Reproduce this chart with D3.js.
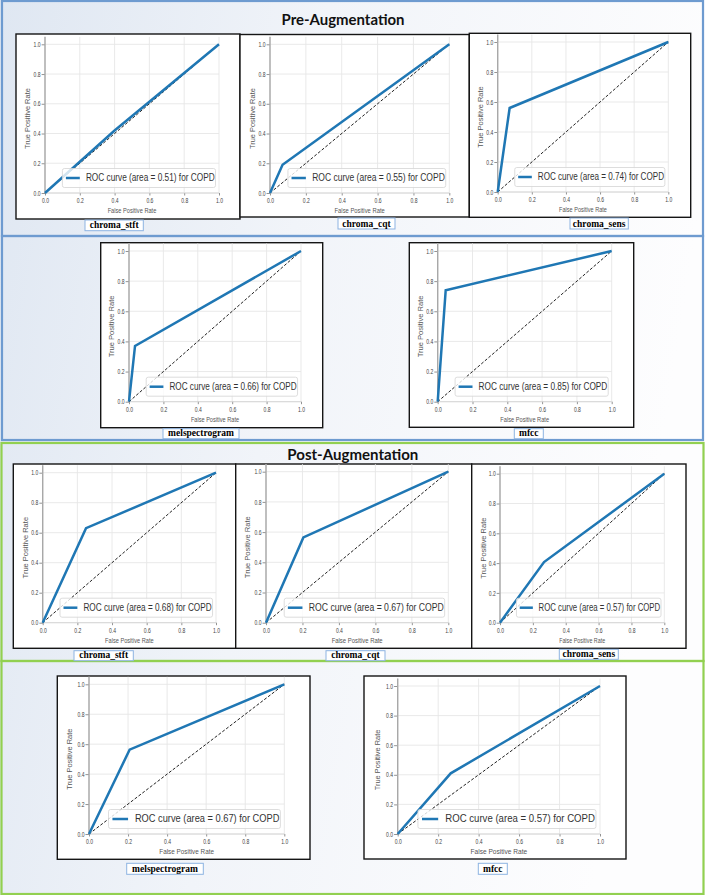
<!DOCTYPE html>
<html>
<head>
<meta charset="utf-8">
<script src="https://cdn.jsdelivr.net/npm/d3@7"></script>
<style>
  html, body { margin: 0; padding: 0; background: #ffffff; }
  svg { display: block; }
</style>
</head>
<body>
<svg id="chart" width="705" height="895"></svg>
<script>
// ---------------- DATA ----------------
const sectionTitles = ["Pre-Augmentation", "Post-Augmentation"];
const features = ["chroma_stft", "chroma_cqt", "chroma_sens", "melspectrogram", "mfcc"];
// single operating point of each ROC curve (curve = (0,0) -> (fpr,tpr) -> (1,1))
const preFpr  = [0.40, 0.07, 0.07, 0.035, 0.046];
const preTpr  = [0.42, 0.19, 0.56, 0.37, 0.74];
const preAuc  = ["0.51", "0.55", "0.74", "0.66", "0.85"];
const postFpr = [0.25, 0.205, 0.268, 0.208, 0.262];
const postTpr = [0.63, 0.565, 0.407, 0.563, 0.41];
const postAuc = ["0.68", "0.67", "0.57", "0.67", "0.57"];
const tickValues = [0, 0.2, 0.4, 0.6, 0.8, 1.0];
const tickLabels = ["0.0", "0.2", "0.4", "0.6", "0.8", "1.0"];
const xAxisTitle = "False Positive Rate";
const yAxisTitle = "True Positive Rate";
const className = "COPD";

// ---------------- LAYOUT (positions only) ----------------
const layout = [
  {sec: 0, f: 0, box: [16, 34, 240, 219],        ax: [45, 219, 44.3, 193],      lab: [85, 220, 143.3, 230.7]},
  {sec: 0, f: 1, box: [240, 34.5, 469.3, 217],   ax: [270, 449.3, 44.3, 193],   lab: [338, 218, 395, 229]},
  {sec: 0, f: 2, box: [469.3, 33.3, 690.7, 217.3], ax: [497.7, 668.3, 42, 192], lab: [570, 218, 628.3, 229]},
  {sec: 0, f: 3, box: [100.7, 242.7, 322.7, 427.7], ax: [129, 301, 251, 401.7], lab: [163, 428.7, 239, 438.7]},
  {sec: 0, f: 4, box: [409.3, 242.7, 633.7, 427.3], ax: [437.7, 611.7, 251, 401.7], lab: [514.3, 428.7, 543.3, 438.7]},
  {sec: 1, f: 0, box: [13.3, 464, 235.7, 648.3], ax: [42.7, 216, 472.7, 622.7], lab: [74, 650.7, 133.3, 660.7]},
  {sec: 1, f: 1, box: [235.7, 464, 471.7, 648.3], ax: [266, 448.3, 471.7, 622.7], lab: [326, 650.7, 385, 660.7]},
  {sec: 1, f: 2, box: [471.7, 464, 686, 648.3],  ax: [500, 664.3, 473.7, 622.7], lab: [559.3, 649.3, 618.3, 659.3]},
  {sec: 1, f: 3, box: [57.3, 676, 310, 859.3],   ax: [89, 284.3, 684.3, 834],    lab: [126.7, 863.3, 203.3, 874.3]},
  {sec: 1, f: 4, box: [364, 676, 626, 859],      ax: [397.7, 600, 686, 834],     lab: [478.3, 863.3, 507.3, 874.3]}
];

const frames = [
  {x: 2, y: 1, w: 701, h: 235, color: "#6e9bd0"},
  {x: 2, y: 236, w: 701, h: 204, color: "#6e9bd0"},
  {x: 1.5, y: 443, w: 702, h: 218, color: "#92d050"},
  {x: 1.5, y: 661, w: 702, h: 233, color: "#92d050"}
];
const titlePos = [{x: 343, y: 25, len: 123}, {x: 352.8, y: 460, len: 131}];

// ---------------- DRAW ----------------
const svg = d3.select("#chart");
const defs = svg.append("defs");
const grad = defs.append("linearGradient").attr("id", "bg")
  .attr("x1", "0%").attr("y1", "0%").attr("x2", "100%").attr("y2", "20%");
grad.append("stop").attr("offset", "0%").attr("stop-color", "#dfe7f2");
grad.append("stop").attr("offset", "45%").attr("stop-color", "#f1f4f9");
grad.append("stop").attr("offset", "100%").attr("stop-color", "#fdfdfe");

svg.append("rect").attr("width", 705).attr("height", 895).attr("fill", "url(#bg)");

frames.forEach(fr => {
  svg.append("rect").attr("x", fr.x).attr("y", fr.y).attr("width", fr.w).attr("height", fr.h)
    .attr("fill", "none").attr("stroke", fr.color).attr("stroke-width", 2.2);
});

sectionTitles.forEach((t, i) => {
  svg.append("text").attr("x", titlePos[i].x).attr("y", titlePos[i].y)
    .attr("text-anchor", "middle")
    .attr("font-family", "Lato, 'Open Sans', sans-serif").attr("font-weight", "bold")
    .attr("font-size", 15.5).attr("fill", "#111")
    .attr("textLength", titlePos[i].len).attr("lengthAdjust", "spacingAndGlyphs")
    .text(t);
});

const line = d3.line();

layout.forEach(L => {
  const fpr = L.sec === 0 ? preFpr[L.f] : postFpr[L.f];
  const tpr = L.sec === 0 ? preTpr[L.f] : postTpr[L.f];
  const auc = L.sec === 0 ? preAuc[L.f] : postAuc[L.f];
  const [bx0, by0, bx1, by1] = L.box;
  const [ax0, ax1, ay1, ay0] = L.ax;
  const W = ax1 - ax0, H = ay0 - ay1;

  const g = svg.append("g");
  // figure box
  g.append("rect").attr("x", bx0).attr("y", by0).attr("width", bx1 - bx0).attr("height", by1 - by0)
    .attr("fill", "#ffffff").attr("stroke", "#151515").attr("stroke-width", 1.4);

  const x = d3.scaleLinear().domain([0, 1]).range([ax0, ax1]);
  const y = d3.scaleLinear().domain([0, 1]).range([ay0, ay1]);
  const yTop = y(1.05);

  // grid
  g.selectAll(".hg").data(tickValues).join("line")
    .attr("x1", ax0).attr("x2", ax1).attr("y1", d => y(d)).attr("y2", d => y(d))
    .attr("stroke", "#e6e6e6").attr("stroke-width", 0.9);
  g.selectAll(".vg").data(tickValues).join("line")
    .attr("x1", d => x(d)).attr("x2", d => x(d)).attr("y1", ay0).attr("y2", yTop)
    .attr("stroke", "#e6e6e6").attr("stroke-width", 0.9);

  // axes
  const tickLen = 2 + W * 0.008;
  const yAxis = d3.axisLeft(y).tickValues(tickValues).tickFormat((d, i) => tickLabels[i])
    .tickSize(tickLen).tickPadding(1);
  const xAxis = d3.axisBottom(x).tickValues(tickValues).tickFormat((d, i) => tickLabels[i])
    .tickSize(2.5).tickPadding(2.5);
  const gy = g.append("g").attr("transform", `translate(${ax0},0)`).call(yAxis);
  const gx = g.append("g").attr("transform", `translate(0,${ay0})`).call(xAxis);
  [gy, gx].forEach(ga => {
    ga.select(".domain").remove();
    ga.selectAll(".tick line").attr("stroke", "#777").attr("stroke-width", 0.8);
    ga.selectAll(".tick text").attr("font-family", "'Liberation Sans', Arial, sans-serif")
      .attr("font-size", 6.8).attr("fill", "#444")
      .attr("textLength", 7).attr("lengthAdjust", "spacingAndGlyphs");
  });
  // spines
  g.append("line").attr("x1", ax0).attr("x2", ax0).attr("y1", ay0).attr("y2", yTop)
    .attr("stroke", "#a8a8a8").attr("stroke-width", 1.4);
  g.append("line").attr("x1", ax0).attr("x2", ax1).attr("y1", ay0).attr("y2", ay0)
    .attr("stroke", "#d0d0d0").attr("stroke-width", 0.8);

  // axis titles
  g.append("text").attr("x", (ax0 + ax1) / 2).attr("y", ay0 + 20)
    .attr("text-anchor", "middle").attr("font-family", "'Liberation Sans', Arial, sans-serif")
    .attr("font-size", 6.6).attr("fill", "#555")
    .attr("textLength", 0.28 * W).attr("lengthAdjust", "spacingAndGlyphs").text(xAxisTitle);
  const ylx = ax0 - 0.1 * W + 2.5, yly = (ay0 + ay1) / 2;
  g.append("text").attr("transform", `translate(${ylx},${yly}) rotate(-90)`)
    .attr("text-anchor", "middle").attr("font-family", "'Liberation Sans', Arial, sans-serif")
    .attr("font-size", 6.6).attr("fill", "#555")
    .attr("textLength", 0.41 * H).attr("lengthAdjust", "spacingAndGlyphs").text(yAxisTitle);

  // diagonal (chance) line
  g.append("path").attr("d", line([[x(0), y(0)], [x(1), y(1)]]))
    .attr("fill", "none").attr("stroke", "#222").attr("stroke-width", 1)
    .attr("stroke-dasharray", "3,1.8");
  // ROC curve
  const pts = [[0, 0], [fpr, tpr], [1, 1]];
  g.append("path").attr("d", line(pts.map(p => [x(p[0]), y(p[1])])))
    .attr("fill", "none").attr("stroke", "#1f77b4").attr("stroke-width", 2.5)
    .attr("stroke-linejoin", "miter");

  // legend
  const lgL = ax1 - 0.9 * W, lgR = ax1 - 0.02 * W;
  const lgB = ay0 - 5.5, lgT = lgB - 19, lgM = (lgT + lgB) / 2;
  g.append("rect").attr("x", lgL).attr("y", lgT).attr("width", lgR - lgL).attr("height", lgB - lgT)
    .attr("rx", 2).attr("fill", "#ffffff").attr("fill-opacity", 0.8)
    .attr("stroke", "#d4d4d4").attr("stroke-width", 0.8);
  g.append("line").attr("x1", lgL + 0.02 * W).attr("x2", lgL + 0.1 * W).attr("y1", lgM).attr("y2", lgM)
    .attr("stroke", "#1f77b4").attr("stroke-width", 2.5);
  g.append("text").attr("x", lgL + 0.135 * W).attr("y", lgM + 3.4)
    .attr("font-family", "'Liberation Sans', Arial, sans-serif").attr("font-size", 10)
    .attr("fill", "#333").attr("textLength", 0.74 * W).attr("lengthAdjust", "spacingAndGlyphs")
    .text(`ROC curve (area = ${auc}) for ${className}`);

  // feature label box
  const [lx0, ly0, lx1, ly1] = L.lab;
  g.append("rect").attr("x", lx0).attr("y", ly0).attr("width", lx1 - lx0).attr("height", ly1 - ly0)
    .attr("fill", "#ffffff").attr("stroke", "#8db3e2").attr("stroke-width", 1);
  g.append("text").attr("x", (lx0 + lx1) / 2).attr("y", ly1 - 2.3)
    .attr("text-anchor", "middle").attr("font-family", "'Liberation Serif', 'Times New Roman', serif")
    .attr("font-weight", "bold").attr("font-size", 9.5).attr("fill", "#000")
    .text(features[L.f]);
});
</script>
</body>
</html>
